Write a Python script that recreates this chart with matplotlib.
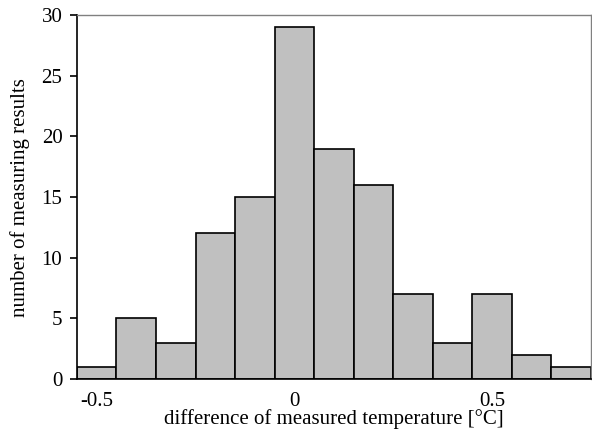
import numpy as np
import matplotlib.pyplot as plt

# === DATA ===
bin_centers = [-0.5, -0.4, -0.3, -0.2, -0.1, 0.0, 0.1, 0.2, 0.3, 0.4, 0.5, 0.6, 0.7]
counts = [1, 5, 3, 12, 15, 29, 19, 16, 7, 3, 7, 2, 1]
x_ticks = [-0.5, 0, 0.5]
x_tick_labels = ['-0.5', '0', '0.5']
y_ticks = [0, 5, 10, 15, 20, 25, 30]

plt.rcParams['font.family'] = ['Liberation Serif', 'DejaVu Serif']

fig = plt.figure(figsize=(5.92, 4.30), dpi=100)
ax = fig.add_axes([0.130, 0.1186, 0.868, 0.846])

ax.bar(bin_centers, counts, width=0.1, color='#c0c0c0', edgecolor='black', linewidth=1.2)

ax.set_xlim(-0.55, 0.75)
ax.set_ylim(0, 30)
ax.set_xticks(x_ticks)
ax.set_xticklabels(x_tick_labels)
ax.set_yticks(y_ticks)
ax.tick_params(axis='x', length=0, labelsize=15, pad=9)
ax.tick_params(axis='y', direction='out', length=5, width=1.2, labelsize=15, pad=5.5)

for s in ['left', 'bottom']:
    ax.spines[s].set_linewidth(1.2)
for s in ['top', 'right']:
    ax.spines[s].set_color('#808080')
    ax.spines[s].set_linewidth(1.0)

ax.set_xlabel('difference of measured temperature [°C]', fontsize=15, labelpad=-1)
ax.set_ylabel('number of measuring results', fontsize=15, labelpad=8)

fig.savefig('out.png', dpi=100)
